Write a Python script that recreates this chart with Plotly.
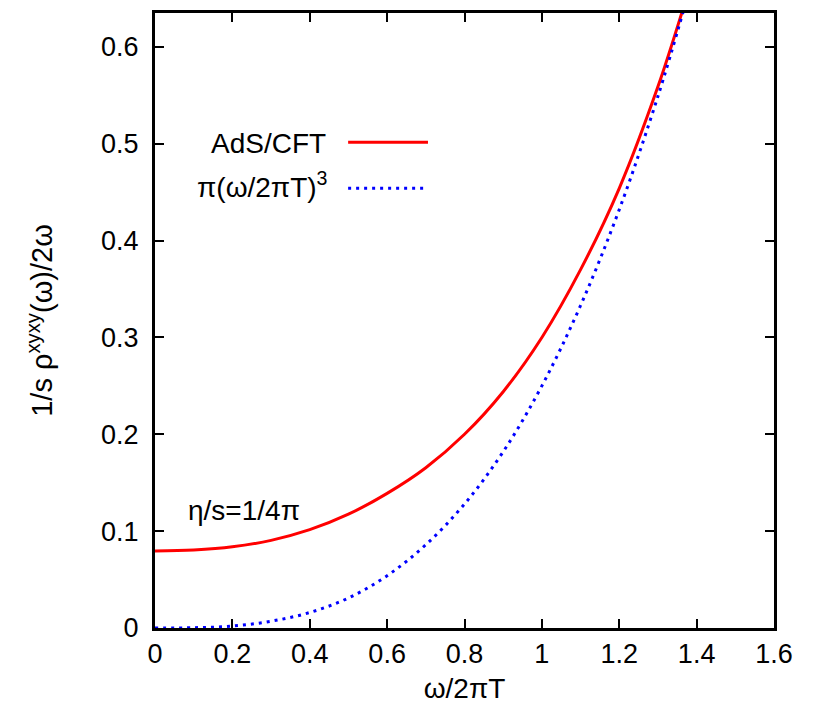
import plotly.graph_objects as go

# omega / 2 pi T
x_ads = [0.0, 0.1, 0.2, 0.3, 0.4, 0.5, 0.6, 0.7, 0.8, 0.9, 1.0, 1.1, 1.2, 1.3, 1.37]
y_ads = [0.0796, 0.0806, 0.0838, 0.0905, 0.1015, 0.1175, 0.139, 0.1655, 0.200, 0.244,
         0.300, 0.370, 0.454, 0.559, 0.646]

x_free = [0.0, 0.1, 0.2, 0.3, 0.4, 0.5, 0.6, 0.7, 0.8, 0.9, 1.0, 1.1, 1.2, 1.3, 1.37]
y_free = [0.0, 0.0003, 0.002, 0.007, 0.016, 0.031, 0.054, 0.086, 0.128, 0.182,
          0.25, 0.333, 0.432, 0.549, 0.643]

x_ticks = [0, 0.2, 0.4, 0.6, 0.8, 1.0, 1.2, 1.4, 1.6]
y_ticks = [0, 0.1, 0.2, 0.3, 0.4, 0.5, 0.6]

FONT = "Liberation Sans, Arial, sans-serif"

fig = go.Figure()
fig.add_trace(go.Scatter(x=x_ads, y=y_ads, mode="lines", name="AdS/CFT",
                         line=dict(color="#ff0000", width=3, shape="spline")))
fig.add_trace(go.Scatter(x=x_free, y=y_free, mode="lines", name="π(ω/2πT)³",
                         line=dict(color="#0000ff", width=3, dash="3px,5px", shape="spline")))

axis_common = dict(showline=True, linecolor="black", linewidth=3, mirror="ticks",
                   ticks="inside", ticklen=9, tickwidth=2, tickcolor="black",
                   showgrid=False, zeroline=False,
                   tickfont=dict(family=FONT, size=27, color="black"))

fig.update_xaxes(range=[0, 1.6], tickvals=x_ticks, **axis_common,
                 title=dict(text="ω/2πT", font=dict(family=FONT, size=28, color="black"),
                            standoff=10))
fig.update_yaxes(range=[0, 0.635], tickvals=y_ticks, **axis_common, ticklabelstandoff=8,
                 title=dict(text="1/s ρ<sup>xyxy</sup>(ω)/2ω",
                            font=dict(family=FONT, size=29, color="black"), standoff=40))

# legend (gnuplot style: text left, sample right)
fig.add_annotation(x=0.2795, y=0.788, xref="paper", yref="paper", text="AdS/CFT",
                   showarrow=False, xanchor="right", yanchor="middle",
                   font=dict(family=FONT, size=28, color="black"))
fig.add_annotation(x=0.283, y=0.72, xref="paper", yref="paper", text="π(ω/2πT)<sup>3</sup>",
                   showarrow=False, xanchor="right", yanchor="middle",
                   font=dict(family=FONT, size=28, color="black"))
fig.add_shape(type="line", xref="paper", yref="paper", x0=0.312, x1=0.441, y0=0.79, y1=0.79,
              line=dict(color="#ff0000", width=3))
fig.add_shape(type="line", xref="paper", yref="paper", x0=0.312, x1=0.436, y0=0.715, y1=0.715,
              line=dict(color="#0000ff", width=3, dash="3px,5px"))

fig.add_annotation(x=0.079, y=0.121, xref="x", yref="y", text="η/s=1/4π",
                   showarrow=False, xanchor="left", yanchor="middle",
                   font=dict(family=FONT, size=28, color="black"))

fig.update_layout(width=807, height=708, showlegend=False,
                  margin=dict(l=147, r=41, t=2, b=88),
                  paper_bgcolor="white", plot_bgcolor="white")

fig.write_html("out.html")
